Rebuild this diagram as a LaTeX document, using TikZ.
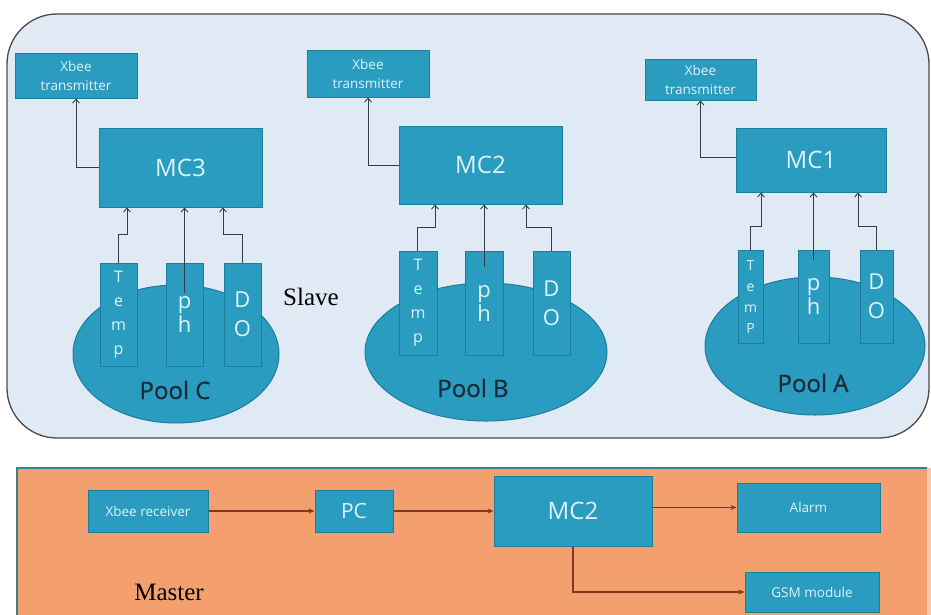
\documentclass[tikz,border=0pt]{standalone}
\usepackage{fontspec}
\setmainfont{Liberation Serif}
\newfontfamily\boxfont{Open Sans}
\newfontface\poolfont{Open Sans}[FakeBold=0.7]
\usetikzlibrary{shapes.geometric,arrows.meta}
\definecolor{slavebg}{HTML}{E0EAF5}
\definecolor{slaveedge}{HTML}{4A4A4A}
\definecolor{boxfill}{HTML}{2A9CC0}
\definecolor{boxedge}{HTML}{1C7D9C}
\definecolor{boxtext}{HTML}{DDF3FA}
\definecolor{pooltext}{HTML}{1C2A38}
\definecolor{masterbg}{HTML}{F3A06E}
\definecolor{masteredge}{HTML}{3C8088}
\definecolor{slarrow}{HTML}{333C48}
\definecolor{maarrow}{HTML}{7B3B22}
\tikzset{
  box/.style={draw=boxedge, fill=boxfill, line width=1pt, text=boxtext, inner sep=0pt, align=center,
    font=\boxfont\fontsize{24}{28}\selectfont},
  smallbox/.style={box, font=\boxfont\fontsize{13.5}{19}\selectfont},
  pool/.style={ellipse, draw=boxedge, fill=boxfill, line width=1pt, inner sep=0pt},
  pooltxt/.style={text=pooltext, font=\poolfont\fontsize{24}{28}\selectfont},
  tempfont/.style={font=\boxfont\fontsize{16}{24}\selectfont},
  phfont/.style={font=\boxfont\fontsize{22}{24}\selectfont},
  dofont/.style={font=\boxfont\fontsize{22}{29}\selectfont},
  sarr/.style={draw=slarrow, line width=0.9pt, -{Straight Barb[length=4pt,width=7pt]}},
  marr/.style={draw=maarrow, line width=1.1pt, -{Stealth[length=6pt,width=5pt]}},
  lbl/.style={font=\fontsize{25}{28}\selectfont, text=black}
}
\begin{document}
\begin{tikzpicture}[x=1pt,y=-1pt]
\useasboundingbox (0,0) rectangle (931,614);
\fill[white] (0,0) rectangle (931,614);
% slave panel
\draw[fill=slavebg, draw=slaveedge, line width=1.3pt, rounded corners=50pt] (7,14) rectangle (929,438);
% master panel
\fill[masterbg] (17,468) rectangle (927,616);
\fill[masterbg!60!white] (927,468) rectangle (931,616);
\draw[masteredge, line width=1.5pt] (17,616) -- (17,468) -- (927,468);

% pools
\node[pool, minimum width=206pt, minimum height=138pt] (poolC) at (176,354) {};
\node[pool, minimum width=242pt, minimum height=138pt] (poolB) at (486,352) {};
\node[pool, minimum width=220pt, minimum height=138pt] (poolA) at (815,346) {};
\node[pooltxt] (poolCt) at (175,390) {Pool C};
\node[pooltxt] (poolBt) at (473,388) {Pool B};
\node[pooltxt] (poolAt) at (813,383) {Pool A};

% sensors C
\node[box, tempfont, minimum width=37pt, minimum height=103pt] (tempC) at (118.5,314.5) {T\\e\\m\\p};
\node[box, phfont, minimum width=37pt, minimum height=103pt] (phC) at (184.5,314.5) {p\\h};
\node[box, dofont, minimum width=37pt, minimum height=103pt] (doC) at (242.5,314.5) {D\\O};
% sensors B
\node[box, tempfont, minimum width=38pt, minimum height=104pt] (tempB) at (418,303) {T\\e\\m\\p};
\node[box, phfont, minimum width=38pt, minimum height=104pt] (phB) at (484,303) {p\\h};
\node[box, dofont, minimum width=37pt, minimum height=104pt] (doB) at (551.5,303) {D\\O};
% sensors A
\node[box, font=\boxfont\fontsize{14}{21}\selectfont, minimum width=25pt, minimum height=93pt] (tempA) at (750.5,296.5) {T\\e\\m\\P};
\node[box, phfont, minimum width=31pt, minimum height=93pt] (phA) at (813.5,296.5) {p\\h};
\node[box, dofont, minimum width=33pt, minimum height=93pt] (doA) at (876.5,296.5) {D\\O};

% controllers
\node[box, minimum width=163pt, minimum height=79pt] (mc3) at (180.5,167.5) {MC3};
\node[box, minimum width=163pt, minimum height=78pt] (mc2s) at (480.5,165) {MC2};
\node[box, minimum width=150pt, minimum height=64pt] (mc1) at (811,160) {MC1};

% xbee transmitters
\node[smallbox, minimum width=122pt, minimum height=45pt] (xbC) at (76,75.5) {Xbee\\transmitter};
\node[smallbox, minimum width=122pt, minimum height=47pt] (xbB) at (368,73.5) {Xbee\\transmitter};
\node[smallbox, minimum width=111pt, minimum height=41pt] (xbA) at (700.5,79.5) {Xbee\\transmitter};

% slave connectors
\draw[sarr] (mc3.west) -| (xbC.south);
\draw[sarr] (mc2s.west) -| (xbB.south);
\draw[sarr] ([yshift=3pt]mc1.west) -| (xbA.south);

\draw[sarr] (tempC.north) -- ++(0,-28) -| ([xshift=-53.5pt]mc3.south);
\draw[sarr] ([yshift=-30pt]phC.north) -- (phC.north |- mc3.south);
\draw[sarr] (doC.north) -- ++(0,-28) -| ([xshift=42.5pt]mc3.south);

\draw[sarr] ([xshift=-1pt]tempB.north) -- ++(0,-23) -| ([xshift=-45.5pt]mc2s.south);
\draw[sarr] ([yshift=-16pt]phB.north) -- (phB.north |- mc2s.south);
\draw[sarr] (doB.north) -- ++(0,-23) -| ([xshift=45.5pt]mc2s.south);

\draw[sarr] (tempA.north) -- ++(0,-23) -| ([xshift=-50pt]mc1.south);
\draw[sarr] ([yshift=-10pt]phA.north) -- (phA.north |- mc1.south);
\draw[sarr] (doA.north) -- ++(0,-23) -| ([xshift=47pt]mc1.south);

% labels
\node[lbl] (slave) at (311,297) {Slave};
\node[lbl] (master) at (169,592) {Master};

% master blocks
\node[box, font=\boxfont\fontsize{13.5}{16}\selectfont, minimum width=120pt, minimum height=42pt] (xbr) at (148,511) {Xbee receiver};
\node[box, font=\boxfont\fontsize{21}{24}\selectfont, minimum width=78pt, minimum height=42pt] (pc) at (354,511) {PC};
\node[box, minimum width=158pt, minimum height=70pt] (mc2m) at (573,511) {MC2};
\node[box, font=\boxfont\fontsize{13.5}{16}\selectfont, minimum width=143pt, minimum height=49pt] (alarm) at (808.5,507.5) {Alarm};
\node[box, font=\boxfont\fontsize{13.5}{16}\selectfont, minimum width=134pt, minimum height=40pt] (gsm) at (812,592) {GSM module};

\draw[marr] (xbr.east) -- (pc.west);
\draw[marr] (pc.east) -- (mc2m.west);
\draw[marr] (mc2m.east |- alarm.west) -- (alarm.west);
\draw[marr] (mc2m.south) |- (gsm.west);
\end{tikzpicture}
\end{document}
